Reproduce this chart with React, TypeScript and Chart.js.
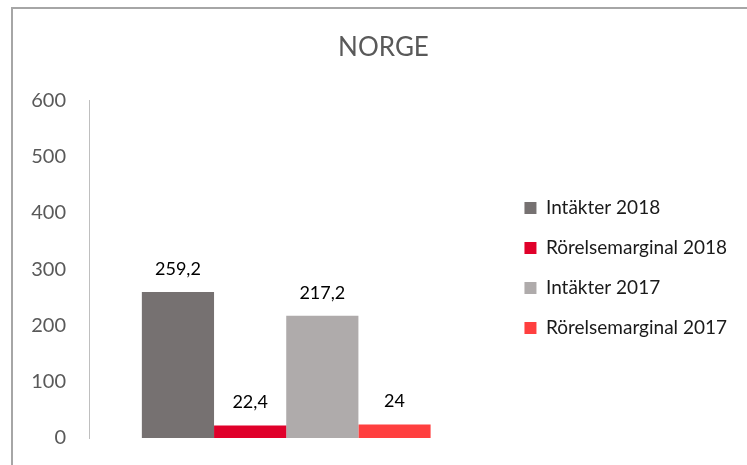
import React, { useEffect, useRef } from "react";
import { Chart, registerables } from "chart.js";

Chart.register(...registerables);

const title = "NORGE";
const categories = ["Norge"];
const seriesNames = ["Intäkter 2018", "Rörelsemarginal 2018", "Intäkter 2017", "Rörelsemarginal 2017"];
const intakter2018 = [259.2];
const rorelse2018 = [22.4];
const intakter2017 = [217.2];
const rorelse2017 = [24];
const seriesColors = ["#767171", "#E0002A", "#AFABAB", "#FF3F3F"];
const yTicks = [0, 100, 200, 300, 400, 500, 600];

const FONT = "Lato, 'Open Sans', sans-serif";

const dataLabels = {
  id: "dataLabels",
  afterDatasetsDraw(chart: any) {
    const ctx = chart.ctx;
    ctx.save();
    ctx.font = `18px ${FONT}`;
    ctx.fillStyle = "#000000";
    ctx.textAlign = "center";
    ctx.textBaseline = "middle";
    chart.data.datasets.forEach((ds: any, i: number) => {
      const meta = chart.getDatasetMeta(i);
      meta.data.forEach((el: any, j: number) => {
        const v = ds.data[j];
        const txt = String(v).replace(".", ",");
        ctx.fillText(txt, el.x, el.y - 23);
      });
    });
    ctx.restore();
  },
};

export default function App() {
  const ref = useRef<HTMLCanvasElement>(null);
  useEffect(() => {
    if (!ref.current) return;
    const values = [intakter2018, rorelse2018, intakter2017, rorelse2017];
    const chart = new Chart(ref.current, {
      type: "bar",
      data: {
        labels: categories,
        datasets: seriesNames.map((name, i) => ({
          label: name,
          data: values[i],
          backgroundColor: seriesColors[i],
          borderWidth: 0,
          categoryPercentage: 0.732,
          barPercentage: 1,
        })),
      },
      options: {
        responsive: false,
        animation: false,
        layout: { padding: { left: 30, right: 10, top: 8, bottom: 11 } },
        plugins: {
          title: {
            display: true,
            text: title,
            color: "#595959",
            font: { family: FONT, size: 26, weight: "normal" },
            padding: { top: 24, bottom: 37 },
          },
          legend: {
            position: "right",
            align: "center",
            maxWidth: 300,
            title: {
              display: true,
              text: " ",
              font: { family: FONT, size: 10 },
              padding: 31,
            },
            labels: {
              boxWidth: 12,
              boxHeight: 12,
              padding: 21,
              color: "#1a1a1a",
              font: { family: FONT, size: 19 },
            },
          },
          tooltip: { enabled: false },
        },
        scales: {
          x: { display: false },
          y: {
            min: 0,
            max: 600,
            afterBuildTicks: (s: any) => {
              s.ticks = yTicks.map((v) => ({ value: v }));
            },
            afterFit: (s: any) => {
              s.width = 59;
              s.paddingBottom = 27;
            },
            grid: { display: false, drawTicks: false },
            border: { display: true, color: "#bfbfbf", width: 1 },
            ticks: {
              color: "#595959",
              padding: 23,
              font: { family: FONT, size: 20 },
            },
          },
          yRight: {
            type: "linear",
            position: "right",
            display: true,
            grid: { display: false, drawTicks: false },
            border: { display: false },
            ticks: { display: false },
            afterFit: (s: any) => {
              s.width = 20;
            },
          },
        },
      },
      plugins: [dataLabels],
    } as any);
    return () => chart.destroy();
  }, []);
  return (
    <div style={{ position: "fixed", left: 0, top: 0, width: 747, height: 465, background: "#fff" }}>
      <canvas ref={ref} width={747} height={465} style={{ position: "absolute", left: 0, top: 0 }} />
      <div
        style={{
          position: "absolute",
          left: 11,
          top: 7,
          width: 800,
          height: 500,
          borderTop: "2px solid #a6a6a6",
          borderLeft: "2px solid #a6a6a6",
          pointerEvents: "none",
        }}
      />
    </div>
  );
}
